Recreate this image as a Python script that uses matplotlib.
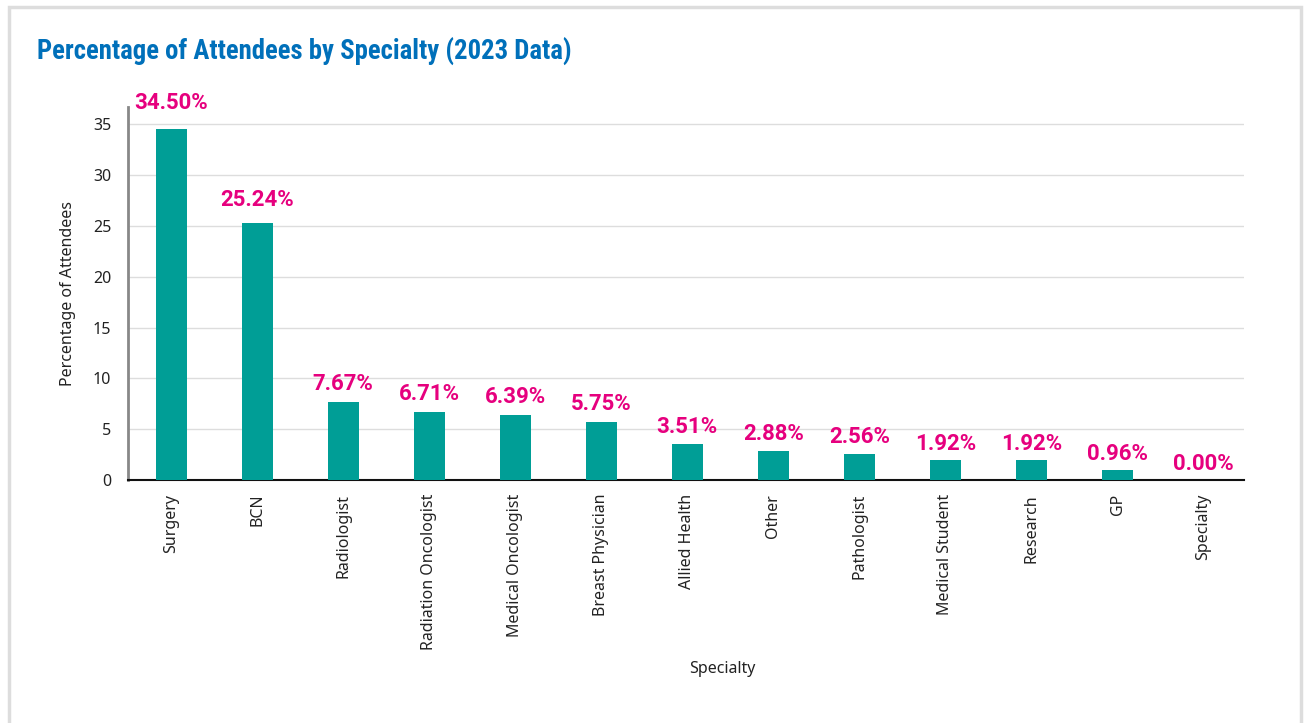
import matplotlib
matplotlib.use("Agg")
import matplotlib.pyplot as plt
from matplotlib.patches import Rectangle
import numpy as np

# data
specialties = ["Surgery", "BCN", "Radiologist", "Radiation Oncologist",
               "Medical Oncologist", "Breast Physician", "Allied Health",
               "Other", "Pathologist", "Medical Student", "Research", "GP",
               "Specialty"]
percentages = [34.50, 25.24, 7.67, 6.71, 6.39, 5.75, 3.51, 2.88, 2.56,
               1.92, 1.92, 0.96, 0.00]
y_ticks = [0, 5, 10, 15, 20, 25, 30, 35]

TEAL = "#009E96"
MAGENTA = "#E6007E"
BLUE = "#0070BA"
TEXT = "#222222"

plt.rcParams['font.family'] = ['Noto Sans', 'DejaVu Sans']

fig = plt.figure(figsize=(13.04, 7.23), dpi=100)
fig.patch.set_facecolor("white")

# light frame round the card
fig.add_artist(Rectangle((9 / 1304, -0.05), (1301 - 9) / 1304, 1.05 - 7 / 723,
                         transform=fig.transFigure, fill=False,
                         edgecolor="#DDDDDD", linewidth=2.5))

fig.text(37 / 1304, 1 - 52 / 723, "Percentage of Attendees by Specialty (2023 Data)",
         color=BLUE, fontsize=19.3, fontweight="bold", va="center", ha="left",
         family=['Liberation Sans Narrow', 'Roboto Condensed', 'DejaVu Sans'])

ax = fig.add_axes([128 / 1304, 1 - 480 / 723, (1244 - 128) / 1304, (480 - 107) / 723])

x = np.arange(len(specialties))
bars = ax.bar(x, percentages, width=0.36, color=TEAL, zorder=3)

for xi, v in zip(x, percentages):
    ax.text(xi, v + 0.5 + 0.03 * v, f"{v:.2f}%", ha="center", va="bottom",
            color=MAGENTA, fontsize=16, fontweight="bold", zorder=4,
            family=['Roboto', 'DejaVu Sans'])

ax.set_xlim(-0.5, len(specialties) - 0.53)
ax.set_ylim(0, 36.7)
ax.set_yticks(y_ticks)
ax.set_yticklabels([str(t) for t in y_ticks], fontsize=11.5, color=TEXT)
ax.set_xticks(x)
ax.set_xticklabels(specialties, rotation=90, fontsize=11.5, color=TEXT)
ax.tick_params(axis="both", length=0, pad=10)
ax.tick_params(axis="y", pad=12)

ax.yaxis.grid(True, color="#DDDDDD", linewidth=1, zorder=0)
ax.set_axisbelow(True)

for side in ("top", "right"):
    ax.spines[side].set_visible(False)
ax.spines["left"].set_color("#888888")
ax.spines["left"].set_linewidth(2)
ax.spines["bottom"].set_color("#111111")
ax.spines["bottom"].set_linewidth(1.5)

ax.set_ylabel("Percentage of Attendees", fontsize=11.5, color=TEXT, labelpad=12)
ax.set_xlabel("Specialty", fontsize=11.5, color=TEXT, labelpad=10)
ax.xaxis.set_label_coords((722 - 128) / 1116, -0.485)

fig.savefig("out.png", dpi=100, facecolor="white")
